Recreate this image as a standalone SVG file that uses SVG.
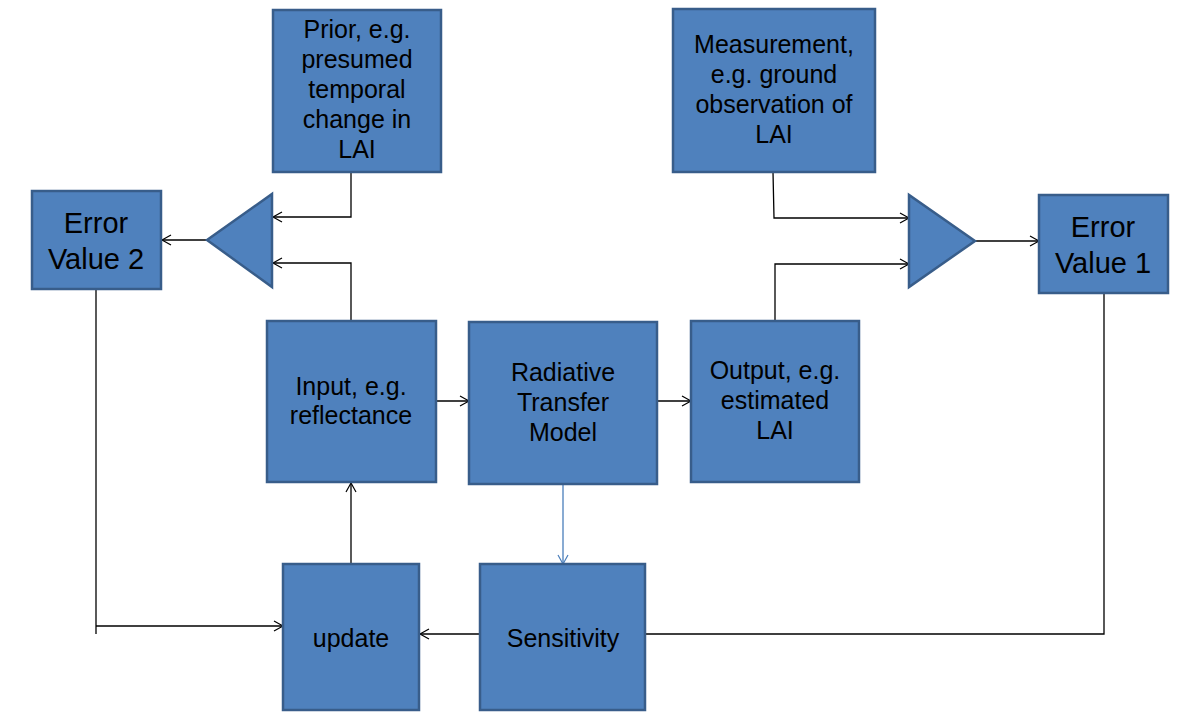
<svg xmlns="http://www.w3.org/2000/svg" width="1184" height="714" viewBox="0 0 1184 714">
<style>
.box{fill:#4f81bd;stroke:#385d8a;stroke-width:2.5}
.t{font-family:"Liberation Sans",Arial,sans-serif;font-size:25px;fill:#000;text-anchor:middle}
.tl{font-family:"Liberation Sans",Arial,sans-serif;font-size:29px;fill:#000;text-anchor:middle}
.c{fill:none;stroke:#000;stroke-width:1.3}
.cb{fill:none;stroke:#4a7ebb;stroke-width:1.3}
</style>
<defs>
<marker id="a" markerUnits="userSpaceOnUse" markerWidth="12" markerHeight="12" refX="10" refY="6" orient="auto" overflow="visible">
<path d="M1,1 L10,6 L1,11" fill="none" stroke="#000" stroke-width="1.2"/>
</marker>
<marker id="ab" markerUnits="userSpaceOnUse" markerWidth="12" markerHeight="12" refX="10" refY="6" orient="auto" overflow="visible">
<path d="M1,1 L10,6 L1,11" fill="none" stroke="#4a7ebb" stroke-width="1.2"/>
</marker>
</defs>
<rect width="1184" height="714" fill="#fff"/>
<g id="connectors">
<path class="c" d="M351,172 V217 H273" marker-end="url(#a)"/>
<path class="c" d="M351,321 V263 H273" marker-end="url(#a)"/>
<path class="c" d="M207,240 H162" marker-end="url(#a)"/>
<path class="c" d="M96,289 V634"/>
<path class="c" d="M96,626 H283" marker-end="url(#a)"/>
<path class="c" d="M351,564 V483" marker-end="url(#a)"/>
<path class="c" d="M436,401 H469" marker-end="url(#a)"/>
<path class="c" d="M657,401 H691" marker-end="url(#a)"/>
<path class="cb" d="M563,484 V564" marker-end="url(#ab)"/>
<path class="c" d="M480,634 H420" marker-end="url(#a)"/>
<path class="c" d="M645,634 H1104 V293"/>
<path class="c" d="M773,172 L774,218 H909" marker-end="url(#a)"/>
<path class="c" d="M775,321 V264 H909" marker-end="url(#a)"/>
<path class="c" d="M975,241 H1039" marker-end="url(#a)"/>
</g>
<g id="prior">
<rect class="box" x="273" y="10" width="168" height="162"/>
<text class="t" x="357" y="38">Prior, e.g.</text>
<text class="t" x="357" y="68">presumed</text>
<text class="t" x="357" y="98">temporal</text>
<text class="t" x="357" y="128">change in</text>
<text class="t" x="357" y="158">LAI</text>
</g>
<g id="measurement">
<rect class="box" x="673" y="9" width="202" height="163"/>
<text class="t" x="774" y="53">Measurement,</text>
<text class="t" x="774" y="83">e.g. ground</text>
<text class="t" x="774" y="113">observation of</text>
<text class="t" x="774" y="143">LAI</text>
</g>
<g id="error2">
<rect class="box" x="32" y="191" width="129" height="98"/>
<text class="tl" x="96" y="233">Error</text>
<text class="tl" x="96" y="269">Value 2</text>
</g>
<g id="error1">
<rect class="box" x="1039" y="195" width="129" height="98"/>
<text class="tl" x="1103" y="237">Error</text>
<text class="tl" x="1103" y="273">Value 1</text>
</g>
<g id="compare-left">
<polygon class="box" points="272,194 272,287 207,240"/>
</g>
<g id="compare-right">
<polygon class="box" points="909,195 909,287 975,241"/>
</g>
<g id="input">
<rect class="box" x="267" y="321" width="169" height="161"/>
<text class="t" x="351" y="395">Input, e.g.</text>
<text class="t" x="351" y="424">reflectance</text>
</g>
<g id="rtm">
<rect class="box" x="469" y="322" width="188" height="162"/>
<text class="t" x="563" y="381">Radiative</text>
<text class="t" x="563" y="411">Transfer</text>
<text class="t" x="563" y="441">Model</text>
</g>
<g id="output">
<rect class="box" x="691" y="321" width="168" height="161"/>
<text class="t" x="775" y="379">Output, e.g.</text>
<text class="t" x="775" y="409">estimated</text>
<text class="t" x="775" y="439">LAI</text>
</g>
<g id="update">
<rect class="box" x="283" y="564" width="136" height="146"/>
<text class="t" x="351" y="647">update</text>
</g>
<g id="sensitivity">
<rect class="box" x="480" y="564" width="165" height="146"/>
<text class="t" x="563" y="647">Sensitivity</text>
</g>
</svg>
